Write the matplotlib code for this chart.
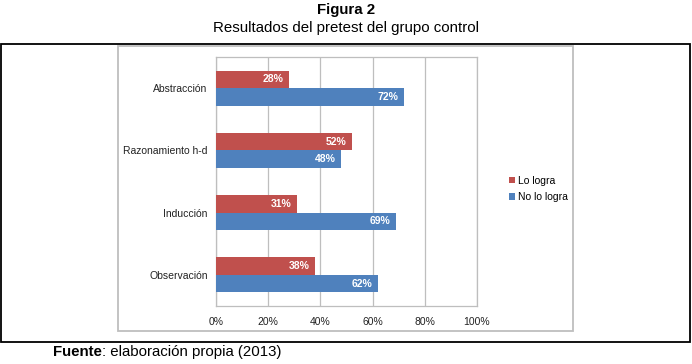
import matplotlib.pyplot as plt
import matplotlib.patches as mpatches
import numpy as np

plt.rcParams['font.family'] = ['Liberation Sans', 'DejaVu Sans']

categorias = ['Abstracción', 'Razonamiento h-d', 'Inducción', 'Observación']
lo_logra = [28, 52, 31, 38]
no_lo_logra = [72, 48, 69, 62]
ticks = [0, 20, 40, 60, 80, 100]

rojo = '#C0504D'
azul = '#4F81BD'
gris = '#BEBEBE'

W, H = 692, 364
fig = plt.figure(figsize=(W / 100, H / 100), dpi=100)


# caja en pixeles -> coordenadas de figura
def caja(x0, y0, x1, y1, color, lw):
    r = mpatches.Rectangle((x0 / W, 1 - y1 / H), (x1 - x0) / W, (y1 - y0) / H,
                           transform=fig.transFigure, fill=False,
                           edgecolor=color, linewidth=lw)
    fig.add_artist(r)


caja(1, 44, 690, 342, 'black', 1.3)
caja(118, 46, 573, 331, gris, 1.3)

fig.text(0.5, 1 - 10 / H, 'Figura 2', ha='center', va='center',
         fontsize=10.8, fontweight='bold')
fig.text(0.5, 1 - 28 / H, 'Resultados del pretest del grupo control',
         ha='center', va='center', fontsize=10.8)

# Fuente en negrita + resto normal
t = fig.text(53 / W, 1 - 352 / H, 'Fuente', ha='left', va='center',
             fontsize=10.8, fontweight='bold')
fig.canvas.draw()
bb = t.get_window_extent()
fig.text(bb.x1 / W, 1 - 352 / H, ': elaboración propia (2013)', ha='left',
         va='center', fontsize=10.8)

ax = fig.add_axes([216 / W, 1 - 306 / H, 261 / W, 249 / H])

y = np.arange(len(categorias))[::-1]
h = 0.28
b1 = ax.barh(y + h / 2, lo_logra, height=h, color=rojo, label='Lo logra', zorder=3)
b2 = ax.barh(y - h / 2, no_lo_logra, height=h, color=azul, label='No lo logra', zorder=3)

for bars, vals in ((b1, lo_logra), (b2, no_lo_logra)):
    for b, v in zip(bars, vals):
        ax.text(v - 2.2, b.get_y() + b.get_height() / 2, '%d%%' % v,
                ha='right', va='center', color='white', fontsize=7.5,
                fontweight='bold', zorder=4)

ax.set_xlim(0, 100)
ax.set_ylim(-0.5, 3.5)
ax.set_xticks(ticks)
ax.set_xticklabels(['%d%%' % t for t in ticks])
ax.set_yticks(y)
ax.set_yticklabels(categorias)
ax.tick_params(length=0, labelsize=7.5, colors='#222222', pad=8)
ax.tick_params(axis='y', pad=6)
ax.grid(axis='x', color=gris, linewidth=0.9, zorder=0)
for s in ax.spines.values():
    s.set_color(gris)
    s.set_linewidth(0.9)

leg = ax.legend(loc='center left', bbox_to_anchor=(500 / W, 1 - 189 / H),
                bbox_transform=fig.transFigure, frameon=False, fontsize=7.5,
                handlelength=0.55, handleheight=0.55, handletextpad=0.3,
                labelspacing=0.6)

fig.savefig('out.png', dpi=100)
